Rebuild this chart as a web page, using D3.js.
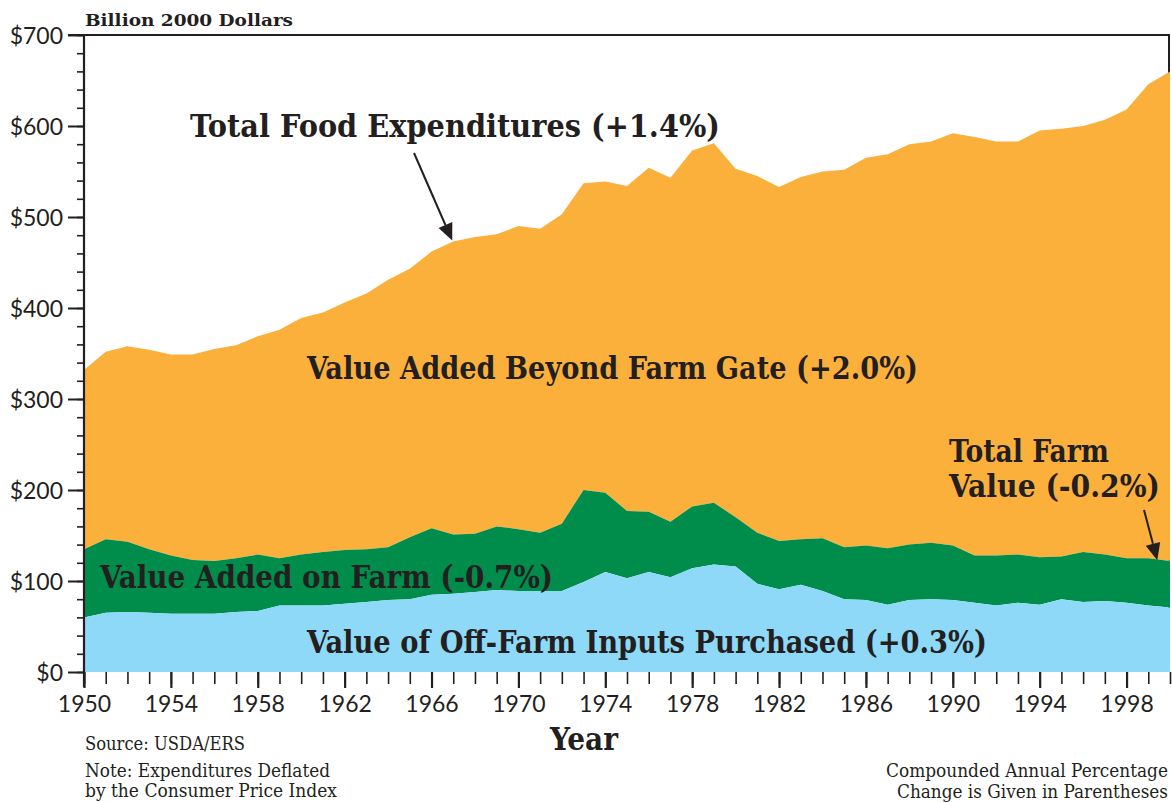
<!DOCTYPE html>
<html>
<head>
<meta charset="utf-8">
<script src="https://cdnjs.cloudflare.com/ajax/libs/d3/7.8.5/d3.min.js"></script>
<style>
  html, body { margin: 0; padding: 0; background: #fff; }
  svg { display: block; }
  .serif { font-family: "DejaVu Serif", serif; font-stretch: condensed; fill: #231f20; }
  .sans { font-family: Lato, "Open Sans", sans-serif; fill: #231f20; }
</style>
</head>
<body>
<div id="chart"></div>
<script>
// Years on the x axis
var years = d3.range(1950, 2001);

// Value of off-farm inputs purchased (top of the blue band), billion 2000 dollars
var offFarmInputs = [
  60, 65, 66, 65, 64, 64, 64, 66, 67, 73,
  73, 73, 75, 77, 79, 80, 85, 86, 88, 90,
  89, 89, 89, 99, 110, 103, 110, 104, 114, 118,
  116, 97, 91, 96, 89, 80, 79, 74, 79, 80,
  79, 76, 73, 76, 74, 80, 77, 78, 76, 73,
  71
];

// Total farm value (top of the green band)
var totalFarmValue = [
  135, 146, 143, 135, 128, 123, 122, 125, 129, 125,
  129, 132, 134, 135, 137, 148, 158, 151, 152, 160,
  157, 153, 163, 200, 197, 177, 176, 165, 182, 186,
  170, 153, 144, 146, 147, 137, 139, 136, 140, 142,
  139, 128, 128, 129, 126, 127, 132, 129, 125, 125,
  122
];

// Total food expenditures (top of the orange band)
var totalFoodExpenditures = [
  332, 352, 358, 354, 349, 349, 355, 359, 369, 376,
  389, 395, 406, 416, 431, 443, 462, 473, 478, 481,
  490, 487, 503, 537, 539, 534, 554, 543, 573, 581,
  553, 545, 533, 544, 550, 552, 565, 569, 580, 583,
  592, 588, 583, 583, 595, 597, 600, 607, 618, 646,
  660
];

var yMajorTicks = d3.range(0, 701, 100);
var yMinorTicks = d3.range(0, 701, 20);
var xMajorTicks = d3.range(1950, 2000, 4);

var ink = "#231f20";
var width = 1172, height = 802;

var rows = years.map(function(yr, i) {
  return {
    year: yr,
    offFarm: offFarmInputs[i],
    farm: totalFarmValue[i],
    total: totalFoodExpenditures[i]
  };
});

var x = d3.scaleLinear().domain([1950, 2000]).range([84, 1170]);
var y = d3.scaleLinear().domain([0, 700]).range([672, 35]);

var svg = d3.select("#chart")
  .append("svg")
  .attr("width", width)
  .attr("height", height);

// frame: top and right border
svg.append("line")
  .attr("x1", 68).attr("x2", 1170)
  .attr("y1", y(700)).attr("y2", y(700))
  .attr("stroke", ink).attr("stroke-width", 2);
svg.append("line")
  .attr("x1", 1169).attr("x2", 1169)
  .attr("y1", y(700)).attr("y2", y(0))
  .attr("stroke", ink).attr("stroke-width", 2);

// stacked bands
var bands = [
  { name: "beyond", color: "#fbb03b", lo: "farm", hi: "total" },
  { name: "onfarm", color: "#008c4b", lo: "offFarm", hi: "farm" },
  { name: "offfarm", color: "#8ed8f8", lo: null, hi: "offFarm" }
];

bands.forEach(function(b) {
  var area = d3.area()
    .x(function(d) { return x(d.year); })
    .y0(function(d) { return b.lo ? y(d[b.lo]) : y(0); })
    .y1(function(d) { return y(d[b.hi]); });
  svg.append("path")
    .datum(rows)
    .attr("class", "band " + b.name)
    .attr("fill", b.color)
    .attr("d", area);
});

// Y axis
var yMinor = svg.append("g")
  .attr("transform", "translate(84,0)")
  .call(d3.axisLeft(y).tickValues(yMinorTicks).tickSize(7).tickFormat(""));
yMinor.select(".domain").remove();
yMinor.selectAll("line").attr("stroke", ink).attr("stroke-width", 1.6);

var yMajor = svg.append("g")
  .attr("transform", "translate(84,0)")
  .call(d3.axisLeft(y).tickValues(yMajorTicks).tickSize(16).tickPadding(5)
    .tickFormat(function(d) { return "$" + d; }));
yMajor.select(".domain").remove();
yMajor.selectAll("line").attr("stroke", ink).attr("stroke-width", 2);
yMajor.selectAll("text")
  .attr("class", "sans")
  .attr("font-size", 23)
  .attr("dy", "0.36em");

svg.append("line")
  .attr("x1", 84).attr("x2", 84)
  .attr("y1", y(700) - 1).attr("y2", y(0) + 15)
  .attr("stroke", ink).attr("stroke-width", 2.2);

// X axis
var xMinor = svg.append("g")
  .attr("transform", "translate(0," + y(0) + ")")
  .call(d3.axisBottom(x).tickValues(years).tickSize(12).tickFormat(""));
xMinor.select(".domain").remove();
xMinor.selectAll("line").attr("stroke", ink).attr("stroke-width", 1.6);

var xMajor = svg.append("g")
  .attr("transform", "translate(0," + y(0) + ")")
  .call(d3.axisBottom(x).tickValues(xMajorTicks).tickSize(16).tickFormat(d3.format("d")));
xMajor.select(".domain").remove();
xMajor.selectAll("line").attr("stroke", ink).attr("stroke-width", 2.2);
xMajor.selectAll("text")
  .attr("class", "sans")
  .attr("font-size", 23)
  .attr("y", 40)
  .attr("dy", null);

// text helper
function label(txt, x0, base, size, weight, len, anchor) {
  var t = svg.append("text")
    .attr("class", "serif")
    .attr("x", x0)
    .attr("y", base)
    .attr("font-size", size)
    .attr("font-weight", weight)
    .attr("text-anchor", anchor || "start")
    .text(txt);
  if (len) t.attr("textLength", len).attr("lengthAdjust", "spacingAndGlyphs");
  return t;
}

label("Billion 2000 Dollars", 85, 26, 17, "bold", 208);
label("Year", 584, 750, 32, "bold", 68, "middle");

label("Source: USDA/ERS", 85, 750, 18, "normal", 160);
label("Note: Expenditures Deflated", 85, 777, 18, "normal", 245);
label("by the Consumer Price Index", 85, 797, 18, "normal", 252);
label("Compounded Annual Percentage", 1168, 777, 18, "normal", 282, "end");
label("Change is Given in Parentheses", 1168, 798, 18, "normal", 271, "end");

label("Total Food Expenditures (+1.4%)", 190, 137, 31, "bold", 530);
label("Value Added Beyond Farm Gate (+2.0%)", 307, 379, 31, "bold", 611);
label("Total Farm", 949, 462, 31, "bold", 160);
label("Value (-0.2%)", 949, 497, 31, "bold", 211);
label("Value Added on Farm (-0.7%)", 100, 588, 31, "bold", 453);
label("Value of Off-Farm Inputs Purchased (+0.3%)", 307, 653, 31, "bold", 680);

// arrows pointing at the series
function arrow(x1, y1, x2, y2) {
  var ang = Math.atan2(y2 - y1, x2 - x1);
  var len = 17, half = 7.5;
  var bx = x2 - len * Math.cos(ang), by = y2 - len * Math.sin(ang);
  svg.append("line")
    .attr("x1", x1).attr("y1", y1).attr("x2", bx).attr("y2", by)
    .attr("stroke", ink).attr("stroke-width", 2);
  var px = -Math.sin(ang) * half, py = Math.cos(ang) * half;
  svg.append("path")
    .attr("d", "M" + x2 + "," + y2 +
      "L" + (bx + px) + "," + (by + py) +
      "L" + (bx - px) + "," + (by - py) + "Z")
    .attr("fill", ink);
}

var i1967 = years.indexOf(1967);
arrow(414, 153, x(1967) - 1, y(totalFoodExpenditures[i1967]) - 1);
var i1999 = years.indexOf(1999);
arrow(1144, 510, x(1999) + 9, y(totalFarmValue[i1999]) + 2);
</script>
</body>
</html>
